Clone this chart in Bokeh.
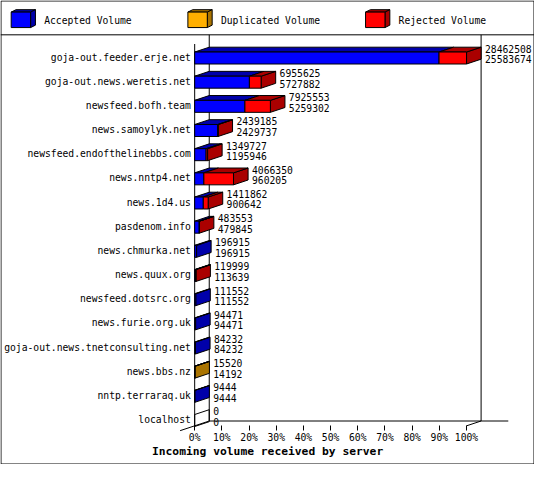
from bokeh.plotting import figure
from bokeh.models import Range1d, LinearAxis, FixedTicker, PrintfTickFormatter, ColumnDataSource
from bokeh.core.properties import value
from bokeh.embed import file_html
from bokeh.resources import INLINE

# ---------------- data ----------------
servers = [
    "goja-out.feeder.erje.net",
    "goja-out.news.weretis.net",
    "newsfeed.bofh.team",
    "news.samoylyk.net",
    "newsfeed.endofthelinebbs.com",
    "news.nntp4.net",
    "news.1d4.us",
    "pasdenom.info",
    "news.chmurka.net",
    "news.quux.org",
    "newsfeed.dotsrc.org",
    "news.furie.org.uk",
    "goja-out.news.tnetconsulting.net",
    "news.bbs.nz",
    "nntp.terraraq.uk",
    "localhost",
]
accepted = [25583674, 5727882, 5259302, 2429737, 1195946, 960205, 900642, 479845,
            196915, 113639, 111552, 94471, 84232, 14192, 9444, 0]
duplicated = [0, 0, 0, 0, 0, 0, 0, 0, 0, 0, 0, 0, 0, 1328, 0, 0]
rejected = [2878834, 1227743, 2666251, 9448, 153781, 3106145, 511220, 3708,
            0, 6360, 0, 0, 0, 0, 0, 0]
series_names = ["Accepted Volume", "Duplicated Volume", "Rejected Volume"]
front_colors = ["#0000FF", "#FFAF00", "#FF0000"]
shade_colors = ["#0000AA", "#AA7400", "#AA0000"]
x_ticks = [0, 10, 20, 30, 40, 50, 60, 70, 80, 90, 100]
title_text = "Incoming volume received by server"

# ---------------- layout helpers (reference pixel space -> data units) ----------------
W, H = 534, 464
REF_W, REF_H = 550, 480
PX0, PX_PER_PCT = 200.0, 2.8
PY0, PY_PER_ROW = 59.5, 25.0


def X(px):
    return (px - PX0) / PX_PER_PCT


def Y(py):
    return (py - PY0) / PY_PER_ROW


DX = 15 / PX_PER_PCT
DY = -5 / PY_PER_ROW
HH = 6.2 / PY_PER_ROW
FONT = "DejaVu Sans Mono"
FS = "9.7px"

p = figure(width=W, height=H, x_range=Range1d(X(0), X(REF_W)), y_range=Range1d(Y(REF_H), Y(0)),
           x_axis_type=None, y_axis_type=None, toolbar_location=None, output_backend="svg",
           min_border=0, outline_line_color=None, background_fill_color="white",
           border_fill_color="white")
p.xgrid.visible = False
p.ygrid.visible = False

# ---------------- bars ----------------
series = [accepted, duplicated, rejected]
totals = [a + d + r for a, d, r in zip(accepted, duplicated, rejected)]
vmax = max(totals)

fx, fy, fc = [], [], []
tx, ty, tc = [], [], []
sx, sy, sc, sa = [], [], [], []
end_pct = []
for i in range(len(servers)):
    x0 = 0.0
    last = None
    for k, ser in enumerate(series):
        v = ser[i]
        if v <= 0:
            continue
        x1 = x0 + v / vmax * 100.0
        fx.append([x0, x1, x1, x0])
        fy.append([i - HH, i - HH, i + HH, i + HH])
        fc.append(front_colors[k])
        tx.append([x0, x1, x1 + DX, x0 + DX])
        ty.append([i - HH, i - HH, i - HH + DY, i - HH + DY])
        tc.append(shade_colors[k])
        last = k
        x0 = x1
    end_pct.append(x0)
    sx.append([x0, x0 + DX, x0 + DX, x0])
    sy.append([i - HH, i - HH + DY, i + HH + DY, i + HH])
    sc.append(shade_colors[last] if last is not None else "white")
    sa.append(1.0 if last is not None else 0.0)

# ---------------- frame / 3D walls ----------------
wall_lines = [
    ((0.5, 0.5), (549.5, 0.5)), ((549.5, 0.5), (549.5, 479.5)),
    ((549.5, 479.5), (0.5, 479.5)), ((0.5, 479.5), (0.5, 0.5)),
    ((0, 35.5), (550, 35.5)),
    ((215, 35.5), (215, 435)),
    ((495, 35.5), (495, 435)),
    ((215, 435), (523, 435)),
    ((200, 45), (200, 440)),
    ((185, 445), (215, 435)),
    ((480, 440), (495, 435)),
]
p.multi_line(xs=[[X(a[0]), X(b[0])] for a, b in wall_lines],
             ys=[[Y(a[1]), Y(b[1])] for a, b in wall_lines],
             line_color="black", line_width=1)

p.patches(xs=sx, ys=sy, fill_color=sc, fill_alpha=sa, line_color="black", line_width=1)
p.patches(xs=tx, ys=ty, fill_color=tc, line_color="black", line_width=1)
p.patches(xs=fx, ys=fy, fill_color=fc, line_color="black", line_width=1)

# ---------------- texts ----------------
rows = list(range(len(servers)))
p.text(x=[X(196)] * len(servers), y=[r - 0.04 for r in rows], text=servers,
       text_align="right", text_baseline="middle", text_font=value(FONT),
       text_font_size=FS, text_color="black")

lab_x = [e + 19 / PX_PER_PCT for e in end_pct]
p.text(x=lab_x, y=[r - 9.5 / PY_PER_ROW for r in rows], text=[str(t) for t in totals],
       text_align="left", text_baseline="middle", text_font=value(FONT),
       text_font_size=FS, text_color="black")
p.text(x=lab_x, y=[r + 1.5 / PY_PER_ROW for r in rows], text=[str(a) for a in accepted],
       text_align="left", text_baseline="middle", text_font=value(FONT),
       text_font_size=FS, text_color="black")

# ---------------- legend (3D cubes) ----------------
leg_x = [11, 193, 376]
lfx, lfy, ltx, lty, lsx, lsy = [], [], [], [], [], []
for lx in leg_x:
    lfx.append([X(lx), X(lx + 20), X(lx + 20), X(lx)])
    lfy.append([Y(12), Y(12), Y(28), Y(28)])
    ltx.append([X(lx), X(lx + 20), X(lx + 25), X(lx + 5)])
    lty.append([Y(12), Y(12), Y(9.5), Y(9.5)])
    lsx.append([X(lx + 20), X(lx + 25), X(lx + 25), X(lx + 20)])
    lsy.append([Y(12), Y(9.5), Y(25.5), Y(28)])
p.patches(xs=ltx, ys=lty, fill_color=shade_colors, line_color="black", line_width=1)
p.patches(xs=lsx, ys=lsy, fill_color=shade_colors, line_color="black", line_width=1)
p.patches(xs=lfx, ys=lfy, fill_color=front_colors, line_color="black", line_width=1)
p.text(x=[X(lx + 34) for lx in leg_x], y=[Y(20.5)] * 3, text=series_names,
       text_align="left", text_baseline="middle", text_font=value(FONT),
       text_font_size=FS, text_color="black")

# ---------------- x axis at the floor of the 3D box ----------------
xaxis = LinearAxis(fixed_location=Y(440), ticker=FixedTicker(ticks=x_ticks),
                   formatter=PrintfTickFormatter(format="%d%%"),
                   axis_line_color=None, major_tick_in=0, major_tick_out=5,
                   major_tick_line_color="black", minor_tick_line_color=None,
                   major_label_standoff=1, major_label_text_font=FONT,
                   major_label_text_font_size=FS, major_label_text_color="black")
p.add_layout(xaxis, "below")

p.text(x=[X(156)], y=[Y(467)], text=[title_text], text_align="left",
       text_baseline="middle", text_font=value(FONT), text_font_size="11.3px",
       text_font_style="bold", text_color="black")

open("out.html", "w").write(file_html(p, INLINE))
